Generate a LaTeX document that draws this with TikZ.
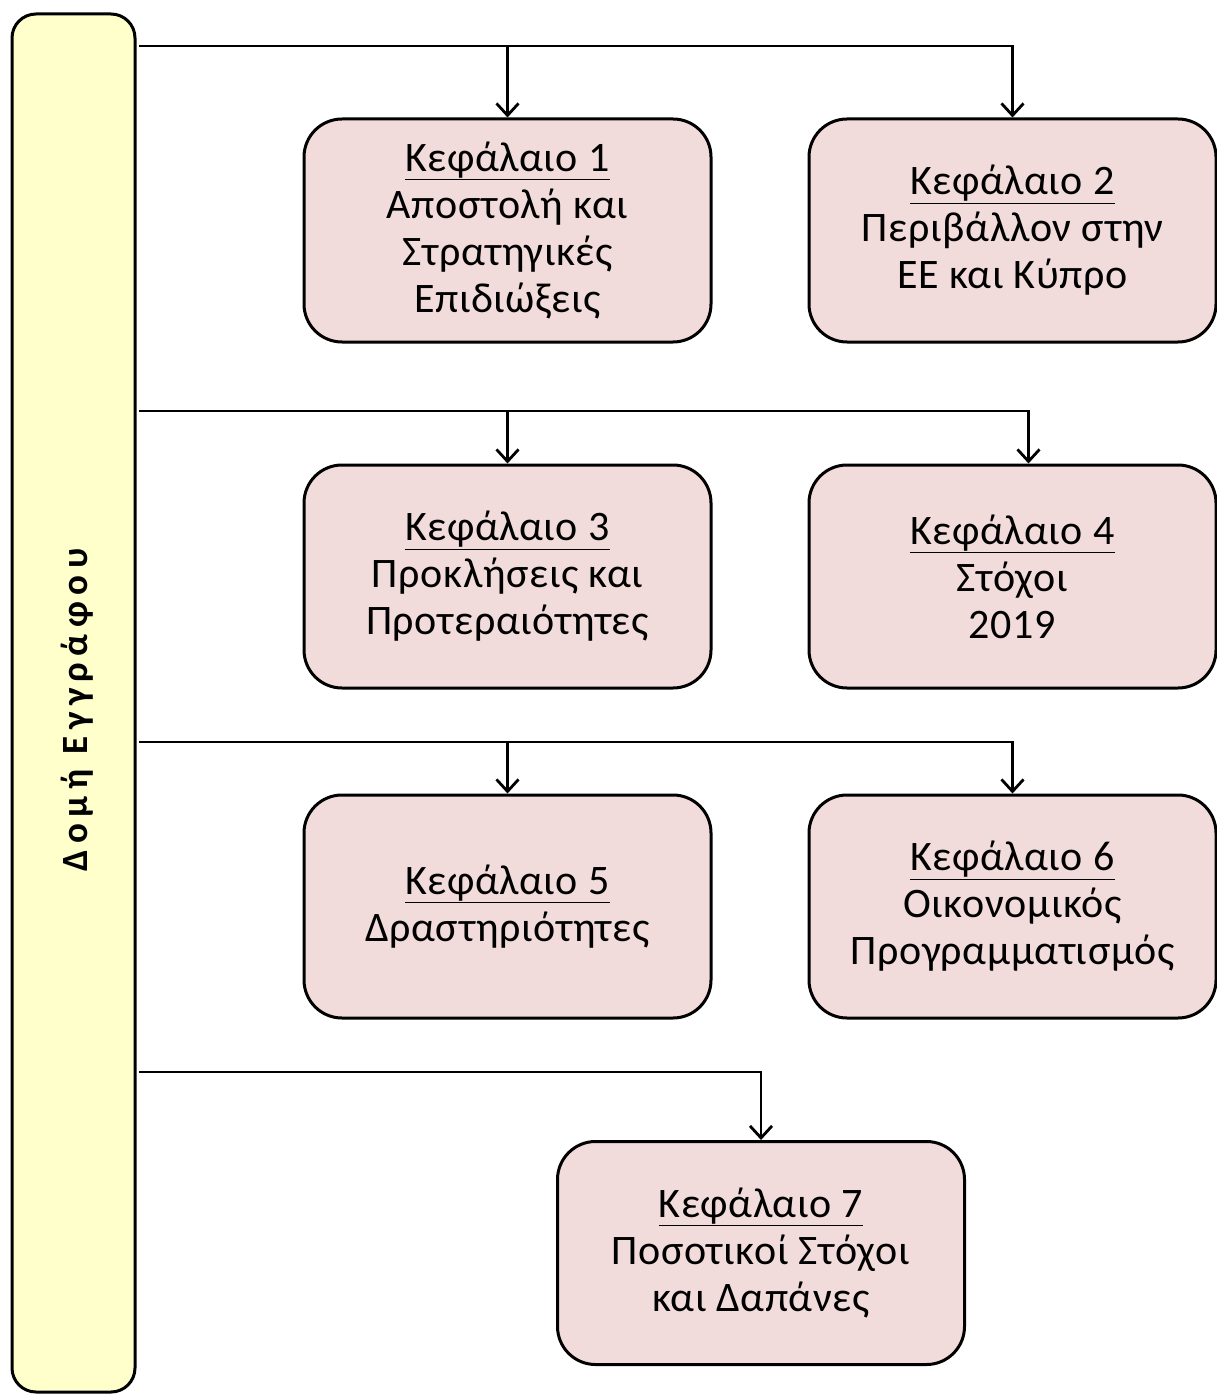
\documentclass[tikz,border=0pt]{standalone}
\usepackage{fontspec}
\setmainfont{Carlito}
\usepackage{xcolor}
\usepackage{tikz}
\usetikzlibrary{arrows.meta}
\usetikzlibrary{positioning}
\definecolor{barfill}{HTML}{FFFFCC}
\definecolor{boxfill}{HTML}{F2DCDB}
\tikzset{>={Straight Barb[length=12pt,width=22pt]}}
\tikzstyle{chap} = [draw=black, line width=3pt, fill=boxfill, rounded corners=38pt, minimum width=407pt, minimum height=223pt, align=center, inner sep=0, font=\fontsize{42}{47}\selectfont\addfontfeatures{LetterSpace=1.5}]
\tikzstyle{link} = [->, line width=2.8pt]

\begin{document}
\begin{tikzpicture}[x=1pt, y=-1pt]
\useasboundingbox (0,0) rectangle (1216,1396);
\node [draw=black, line width=3pt, fill=barfill, rounded corners=24pt, minimum width=123pt, minimum height=1378pt, inner sep=0] (bar) at (73.5,703) {};
\node [rotate=90, font=\fontsize{37}{40}\selectfont\bfseries\addfontfeatures{LetterSpace=18}] (title) at (77,710) {Δομή Εγγράφου};
\node [chap] (c1) at (507.5,230.5) {\underline{Κεφάλαιο 1}\\Αποστολή και\\Στρατηγικές\\Επιδιώξεις};
\node [chap] (c2) at (1012.5,230.5) {\underline{Κεφάλαιο 2}\\Περιβάλλον στην\\ΕΕ και Κύπρο};
\node [chap] (c3) at (507.5,576.5) {\underline{Κεφάλαιο 3}\\Προκλήσεις και\\Προτεραιότητες};
\node [chap] (c4) at (1012.5,576.5) {\underline{Κεφάλαιο 4}\\Στόχοι\\2019};
\node [chap] (c5) at (507.5,906.5) {\underline{Κεφάλαιο 5}\\Δραστηριότητες};
\node [chap] (c6) at (1012.5,906.5) {\underline{Κεφάλαιο 6}\\Οικονομικός\\Προγραμματισμός};
\node [chap] (c7) at (761,1253) {\underline{Κεφάλαιο 7}\\Ποσοτικοί Στόχοι\\και Δαπάνες};
% branch points on the bar
\coordinate (r1) at (139,46);
\coordinate (r2) at (139,411);
\coordinate (r3) at (139,742);
\coordinate (r4) at (139,1072);
\draw [link] (r1) -| (c1.north);
\draw [link] (r1) -| (c2.north);
\draw [link] (r2) -| (c3.north);
\draw [link] (r2) -| ([xshift=16pt]c4.north);
\draw [link] (r3) -| (c5.north);
\draw [link] (r3) -| (c6.north);
\draw [link] (r4) -| (c7.north);
\end{tikzpicture}
\end{document}
